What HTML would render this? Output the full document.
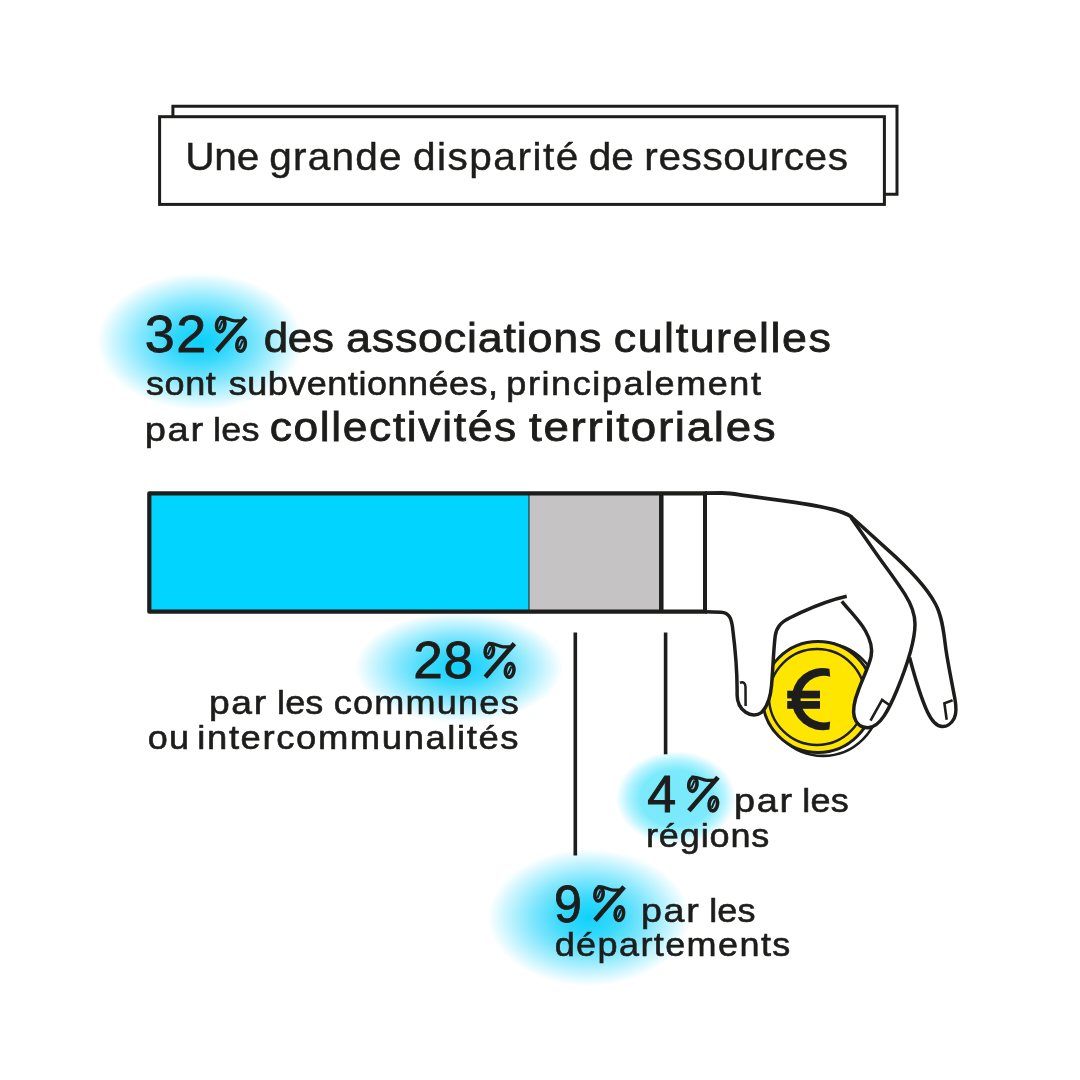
<!DOCTYPE html>
<html lang="fr">
<head>
<meta charset="utf-8">
<title>Une grande disparité de ressources</title>
<style>
  html, body { margin: 0; padding: 0; }
  body {
    width: 1080px; height: 1080px; position: relative; overflow: hidden;
    background: #ffffff; color: #1d1d1b;
    font-family: "Liberation Sans", sans-serif;
  }
  .glow { position: absolute; border-radius: 50%; }
  .t {
    position: absolute; white-space: nowrap; line-height: 1; margin: 0;
    color: #1d1d1b; transform-origin: 0 0;
  }
  #txt { position: absolute; left: 0; top: 0; width: 1080px; height: 1080px; will-change: transform; }
  svg { position: absolute; left: 0; top: 0; }
</style>
</head>
<body>

<!-- glows -->
<div class="glow" id="g32" style="left:97px; top:273px; width:206px; height:137px;
  background: radial-gradient(ellipse closest-side, #0ad0fb 0%, #34d8fc 28%, #82e7fd 58%, #cdf6fe 84%, rgba(255,255,255,0) 100%);"></div>
<div class="glow" id="g28" style="left:355px; top:612px; width:208px; height:111px;
  background: radial-gradient(ellipse closest-side, #10d1fb 0%, #38d9fc 28%, #84e7fd 58%, #cff6fe 84%, rgba(255,255,255,0) 100%);"></div>
<div class="glow" id="g4" style="left:616px; top:751px; width:120px; height:94px;
  background: radial-gradient(ellipse closest-side, #79e9fc 0%, #7ceafc 60%, #b4f3fe 80%, rgba(255,255,255,0) 100%);"></div>
<div class="glow" id="g9" style="left:487.5px; top:848.5px; width:202px; height:137px;
  background: radial-gradient(ellipse closest-side, #10d1fb 0%, #38d9fc 28%, #84e7fd 58%, #cff6fe 84%, rgba(255,255,255,0) 100%);"></div>


<div id="txt">
<!--TEXT-START-->
<p class="t" id="t1" style="left:185px; top:137px; font-size:39px; letter-spacing:-0.30px; transform:translateX(0.33px) scaleX(1.0420); -webkit-text-stroke:0.45px #1d1d1b;">Une</p>
<p class="t" id="t2" style="left:269px; top:137px; font-size:39px; letter-spacing:1.16px; transform:translateX(0.33px) scaleX(1.0400); -webkit-text-stroke:0.45px #1d1d1b;">grande</p>
<p class="t" id="t3" style="left:413px; top:137px; font-size:39px; letter-spacing:1.43px; transform:translateX(0.00px) scaleX(1.0400); -webkit-text-stroke:0.45px #1d1d1b;">disparité</p>
<p class="t" id="t4" style="left:588px; top:137px; font-size:39px; letter-spacing:0.03px; transform:translateX(0.67px) scaleX(1.0400); -webkit-text-stroke:0.45px #1d1d1b;">de</p>
<p class="t" id="t5" style="left:644px; top:137px; font-size:39px; letter-spacing:0.57px; transform:translateX(0.33px) scaleX(1.0400); -webkit-text-stroke:0.45px #1d1d1b;">ressources</p>
<p class="t" id="n32" style="left:144px; top:309px; font-size:51px; letter-spacing:1.50px; transform:translateX(0.67px) scaleX(1.0571); -webkit-text-stroke:0.8px #1d1d1b;">32</p>
<p class="t" id="h1a" style="left:263px; top:317px; font-size:41.5px; letter-spacing:-0.30px; transform:translateX(0.67px) scaleX(1.0581); -webkit-text-stroke:0.8px #1d1d1b;">des</p>
<p class="t" id="h1b" style="left:346px; top:317px; font-size:41.5px; letter-spacing:0.73px; transform:translateX(0.00px) scaleX(1.0800); -webkit-text-stroke:0.8px #1d1d1b;">associations</p>
<p class="t" id="h1c" style="left:613px; top:317px; font-size:41.5px; letter-spacing:1.44px; transform:translateX(0.67px) scaleX(1.0800); -webkit-text-stroke:0.8px #1d1d1b;">culturelles</p>
<p class="t" id="h2a" style="left:145px; top:366px; font-size:34px; letter-spacing:0.53px; transform:translateX(1.00px) scaleX(1.0600); -webkit-text-stroke:0.6px #1d1d1b;">sont</p>
<p class="t" id="h2b" style="left:228px; top:366px; font-size:34px; letter-spacing:0.47px; transform:translateX(0.67px) scaleX(1.0600); -webkit-text-stroke:0.6px #1d1d1b;">subventionnées,</p>
<p class="t" id="h2c" style="left:506px; top:366px; font-size:34px; letter-spacing:1.47px; transform:translateX(0.33px) scaleX(1.0600); -webkit-text-stroke:0.6px #1d1d1b;">principalement</p>
<p class="t" id="h3a" style="left:144px; top:412px; font-size:34px; letter-spacing:1.50px; transform:translateX(0.67px) scaleX(1.1200); -webkit-text-stroke:0.6px #1d1d1b;">par</p>
<p class="t" id="h3b" style="left:213px; top:412px; font-size:34px; letter-spacing:0.17px; transform:translateX(0.00px) scaleX(1.0600); -webkit-text-stroke:0.6px #1d1d1b;">les</p>
<p class="t" id="h3c" style="left:269px; top:407px; font-size:40.5px; letter-spacing:1.50px; transform:translateX(0.67px) scaleX(1.0950); -webkit-text-stroke:0.8px #1d1d1b;">collectivités</p>
<p class="t" id="h3d" style="left:528px; top:407px; font-size:40.5px; letter-spacing:1.50px; transform:translateX(1.00px) scaleX(1.1303); -webkit-text-stroke:0.8px #1d1d1b;">territoriales</p>
<p class="t" id="n28" style="left:413px; top:635px; font-size:51px; letter-spacing:0.58px; transform:translateX(0.33px) scaleX(1.0400); -webkit-text-stroke:0.8px #1d1d1b;">28</p>
<p class="t" id="l28a" style="left:208px; top:685px; font-size:34px; letter-spacing:1.50px; transform:translateX(1.00px) scaleX(1.0959); -webkit-text-stroke:0.6px #1d1d1b;">par</p>
<p class="t" id="l28b" style="left:277px; top:685px; font-size:34px; letter-spacing:0.13px; transform:translateX(0.00px) scaleX(1.0600); -webkit-text-stroke:0.6px #1d1d1b;">les</p>
<p class="t" id="l28c" style="left:333px; top:685px; font-size:34px; letter-spacing:1.18px; transform:translateX(0.67px) scaleX(1.0600); -webkit-text-stroke:0.6px #1d1d1b;">communes</p>
<p class="t" id="l28d" style="left:147px; top:720px; font-size:34px; letter-spacing:1.26px; transform:translateX(0.67px) scaleX(1.0600); -webkit-text-stroke:0.6px #1d1d1b;">ou</p>
<p class="t" id="l28e" style="left:197px; top:720px; font-size:34px; letter-spacing:1.50px; transform:translateX(0.33px) scaleX(1.0712); -webkit-text-stroke:0.6px #1d1d1b;">intercommunalités</p>
<p class="t" id="n4" style="left:647px; top:769px; font-size:51px; letter-spacing:0.00px; transform:translateX(0.33px) scaleX(1.0176); -webkit-text-stroke:1.0px #1d1d1b;">4</p>
<p class="t" id="l4a" style="left:734px; top:783px; font-size:34px; letter-spacing:1.50px; transform:translateX(0.00px) scaleX(1.1131); -webkit-text-stroke:0.6px #1d1d1b;">par</p>
<p class="t" id="l4b" style="left:802px; top:783px; font-size:34px; letter-spacing:0.17px; transform:translateX(0.33px) scaleX(1.0600); -webkit-text-stroke:0.6px #1d1d1b;">les</p>
<p class="t" id="l4c" style="left:646px; top:818px; font-size:34px; letter-spacing:0.81px; transform:translateX(0.00px) scaleX(1.0600); -webkit-text-stroke:0.6px #1d1d1b;">régions</p>
<p class="t" id="n9" style="left:553px; top:879px; font-size:51px; letter-spacing:0.00px; transform:translateX(1.00px) scaleX(0.9824); -webkit-text-stroke:0.8px #1d1d1b;">9</p>
<p class="t" id="l9a" style="left:641px; top:893px; font-size:34px; letter-spacing:1.50px; transform:translateX(0.00px) scaleX(1.1067); -webkit-text-stroke:0.6px #1d1d1b;">par</p>
<p class="t" id="l9b" style="left:709px; top:893px; font-size:34px; letter-spacing:0.02px; transform:translateX(0.33px) scaleX(1.0600); -webkit-text-stroke:0.6px #1d1d1b;">les</p>
<p class="t" id="l9c" style="left:554px; top:927px; font-size:34px; letter-spacing:1.31px; transform:translateX(0.67px) scaleX(1.0600); -webkit-text-stroke:0.6px #1d1d1b;">départements</p>
<!--TEXT-END-->
<!-- percent glyphs are drawn as vector art below; invisible text kept for semantics -->
<p class="t" style="left:214px; top:309px; font-size:51px; color:transparent; transform:scaleX(0.8);">%</p>
<p class="t" style="left:483px; top:635px; font-size:51px; color:transparent; transform:scaleX(0.8);">%</p>
<p class="t" style="left:687px; top:769px; font-size:51px; color:transparent; transform:scaleX(0.8);">%</p>
<p class="t" style="left:593px; top:878px; font-size:51px; color:transparent; transform:scaleX(0.8);">%</p>
</div>

<svg id="art" width="1080" height="1080" viewBox="0 0 1080 1080">
  <!-- title boxes -->
  <path d="M172.9 116 V106.3 H897 V194.3 H885" fill="none" stroke="#1d1d1b" stroke-width="3" stroke-linejoin="miter"/>
  <rect x="159.6" y="116.7" width="724.8" height="87.7" fill="none" stroke="#1d1d1b" stroke-width="3"/>
<!--HAND-START-->
  <!-- coin -->
  <circle cx="823.0" cy="699.5" r="56.4" fill="#ffffff" stroke="#1d1d1b" stroke-width="2.6"/>
  <circle cx="818" cy="697" r="55.5" fill="#ffe600" stroke="#1d1d1b" stroke-width="3"/>
  <circle cx="817" cy="697" r="48" fill="none" stroke="#1d1d1b" stroke-width="2.4"/>
  <path d="M829.4 668.75 A31.1 31.1 0 1 0 829.4 729.45 L830.2 721.5 A23.3 23.3 0 1 1 830.2 676.7 Z" fill="#1d1d1b"/>
  <rect x="787.2" y="690.7" width="32.8" height="7.7" fill="#1d1d1b"/>
  <rect x="787.2" y="701" width="32.8" height="7.8" fill="#1d1d1b"/>
  <!-- hand fills (white, hide coin) -->
  <path d="M846.7 596.3 C830 600 812 607.5 801.1 612.4 L790 617.8 C781 622.2 776.5 627 775.2 636 C773.5 650 773 668 771.5 686 C770.5 697 767 707 761.4 712.5 C757.5 715.6 751 716 745.7 712.3 C740 708.3 737 702 737.1 694 C737.3 680 735.5 651 732.6 628 C731.5 619 729.5 612.6 721 612.2 L705 611.8 Z" fill="#ffffff"/>
  <path d="M851 517.5 L878.6 556.9 C888 570 898 583 905 594.4 C911 604 915 614 915 624 C915 640 906 668 897 690 C892 702 888 710 884.1 715.9 C879 723.5 873.5 727.7 867.9 727.7 C861 727.7 856 723.5 854.3 717 C852 708 855 699 858.5 690 C863 678 869 666 871.1 656.3 C873 647 870 639 865.5 631 C860 621 850 611.5 841.8 601.4 Z" fill="#ffffff"/>
  <!-- hand strokes -->
  <g fill="none" stroke="#1d1d1b" stroke-width="3.5" stroke-linecap="butt" stroke-linejoin="round">
    <path d="M705 493.2 L722 493 C731 493 738 494.6 745.6 495.7 L795 502.3 C812 504.8 832 508.5 843 512.6 C847 514.1 849.5 515.3 852 517.3" stroke-width="3.8"/>
    <path d="M851 516.5 L885.6 547.9 C905 565 925 584 935.6 604.2 C943 618 944 636 946 650 C948 664 952 683 954.7 697.8 C956.5 707 957 713 954.1 718.5 C951 724.5 946 726.8 942.4 726.6 C936 726.3 931 719.5 927.5 712 C920 696 914 674 909.6 657.5"/>
    <path d="M851 517.5 L878.6 556.9 C888 570 898 583 905 594.4 C911 604 915 614 915 624 C915 640 906 668 897 690 C892 702 888 710 884.1 715.9 C879 723.5 873.5 727.7 867.9 727.7 C861 727.7 856 723.5 854.3 717 C852 708 855 699 858.5 690 C863 678 869 666 871.1 656.3 C873 647 870 639 865.5 631 C860 621 850 611.5 841.8 601.4"/>
    <path d="M846.7 596.3 C830 600 812 607.5 801.1 612.4 L790 617.8 C781 622.2 776.5 627 775.2 636 C773.5 650 773 668 771.5 686 C770.5 697 767 707 761.4 712.5 C757.5 715.6 751 716 745.7 712.3 C740 708.3 737 702 737.1 694 C737.3 680 735.5 651 732.6 628 C731.5 619 729.5 612.6 721 612.2 L705 611.8"/>
    <path d="M739.9 682.8 C743.5 681.5 745.5 683 745.5 687 L745.6 705.9" stroke-width="2.5"/>
    <path d="M870.5 720.7 L882.1 699.9 L889.3 705" stroke-width="2.6" stroke-linejoin="miter"/>
    <path d="M952.6 700.3 L944.4 703.4 L946.7 719.8" stroke-width="2.6" stroke-linejoin="miter"/>
  </g>
<!--HAND-END-->
  <!-- bar -->
  <rect x="149.3" y="493.3" width="380" height="118.4" fill="#00d4ff"/>
  <rect x="529" y="493.3" width="132" height="118.4" fill="#c5c3c4"/>
  <rect x="661" y="493.3" width="44" height="118.4" fill="#ffffff"/>
  <line x1="529" y1="493" x2="529" y2="612" stroke="#1d1d1b" stroke-width="1"/>
  <line x1="661.3" y1="493" x2="661.3" y2="612" stroke="#1d1d1b" stroke-width="4.5"/>
  <line x1="705" y1="493" x2="705" y2="612" stroke="#1d1d1b" stroke-width="4"/>
  <path d="M707 493.3 H149.3 V611.7 H707" fill="none" stroke="#1d1d1b" stroke-width="4.2" stroke-linejoin="round"/>
  <!-- percent signs -->
  <g fill="none" stroke="#1d1d1b" transform="translate(214.7 316.1)">
      <path d="M2.0 35.0 L31.1 1.5" stroke-width="4.7"/>
      <path d="M4.6 1.4 C11.5 0.6 15 4.6 20 4.7 L28.5 4.7" stroke-width="3.2"/>
      <ellipse cx="6.0" cy="8.8" rx="4.1" ry="6.9" stroke-width="3.6" transform="rotate(8 6 8.8)"/>
      <ellipse cx="26.4" cy="28.3" rx="4.2" ry="6.9" stroke-width="3.6" transform="rotate(8 26.4 28.3)"/>
      <path d="M4.4 12.6 L7.6 5.0 M24.8 32.1 L28.0 24.5" stroke-width="2.1"/>
    </g>
  <g fill="none" stroke="#1d1d1b" transform="translate(483.3 642.1)">
      <path d="M2.0 35.0 L31.1 1.5" stroke-width="4.7"/>
      <path d="M4.6 1.4 C11.5 0.6 15 4.6 20 4.7 L28.5 4.7" stroke-width="3.2"/>
      <ellipse cx="6.0" cy="8.8" rx="4.1" ry="6.9" stroke-width="3.6" transform="rotate(8 6 8.8)"/>
      <ellipse cx="26.4" cy="28.3" rx="4.2" ry="6.9" stroke-width="3.6" transform="rotate(8 26.4 28.3)"/>
      <path d="M4.4 12.6 L7.6 5.0 M24.8 32.1 L28.0 24.5" stroke-width="2.1"/>
    </g>
  <g fill="none" stroke="#1d1d1b" transform="translate(686.9 775.7)">
      <path d="M2.0 35.0 L31.1 1.5" stroke-width="4.7"/>
      <path d="M4.6 1.4 C11.5 0.6 15 4.6 20 4.7 L28.5 4.7" stroke-width="3.2"/>
      <ellipse cx="6.0" cy="8.8" rx="4.1" ry="6.9" stroke-width="3.6" transform="rotate(8 6 8.8)"/>
      <ellipse cx="26.4" cy="28.3" rx="4.2" ry="6.9" stroke-width="3.6" transform="rotate(8 26.4 28.3)"/>
      <path d="M4.4 12.6 L7.6 5.0 M24.8 32.1 L28.0 24.5" stroke-width="2.1"/>
    </g>
  <g fill="none" stroke="#1d1d1b" transform="translate(593.0 885.4)">
      <path d="M2.0 35.0 L31.1 1.5" stroke-width="4.7"/>
      <path d="M4.6 1.4 C11.5 0.6 15 4.6 20 4.7 L28.5 4.7" stroke-width="3.2"/>
      <ellipse cx="6.0" cy="8.8" rx="4.1" ry="6.9" stroke-width="3.6" transform="rotate(8 6 8.8)"/>
      <ellipse cx="26.4" cy="28.3" rx="4.2" ry="6.9" stroke-width="3.6" transform="rotate(8 26.4 28.3)"/>
      <path d="M4.4 12.6 L7.6 5.0 M24.8 32.1 L28.0 24.5" stroke-width="2.1"/>
    </g>
  <!-- leader lines -->
  <line x1="575.3" y1="632.5" x2="575.3" y2="855.6" stroke="#1d1d1b" stroke-width="3.6"/>
  <line x1="665.6" y1="632.5" x2="665.6" y2="754.3" stroke="#1d1d1b" stroke-width="3.6"/>
</svg>

</body>
</html>
